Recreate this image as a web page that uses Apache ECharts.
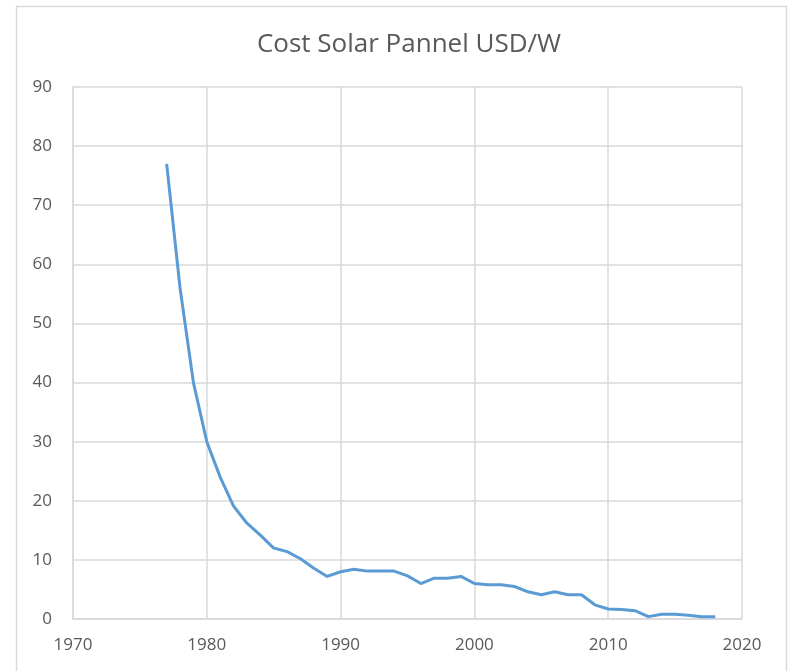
<!DOCTYPE html>
<html>
<head>
<meta charset="utf-8">
<script src="https://cdn.jsdelivr.net/npm/echarts@6/dist/echarts.min.js"></script>
<style>
  html, body { margin: 0; padding: 0; background: #fff; }
  #chart { width: 788px; height: 671px; }
</style>
</head>
<body>
<div id="chart"></div>
<script>
// cost of solar panels, USD per watt
const years = [1977, 1978, 1979, 1980, 1981, 1982, 1983, 1984, 1985, 1986, 1987, 1988, 1989,
  1990, 1991, 1992, 1993, 1994, 1995, 1996, 1997, 1998, 1999, 2000, 2001, 2002, 2003, 2004,
  2005, 2006, 2007, 2008, 2009, 2010, 2011, 2012, 2013, 2014, 2015, 2016, 2017, 2018]
const costs = [77, 56, 40, 30, 24, 19.1, 16.2, 14.2, 12.0, 11.4, 10.2, 8.6, 7.2,
  8.0, 8.4, 8.1, 8.1, 8.1, 7.3, 6.0, 6.9, 6.9, 7.2, 6.0, 5.8, 5.8, 5.5, 4.6,
  4.1, 4.6, 4.1, 4.1, 2.4, 1.7, 1.6, 1.4, 0.4, 0.8, 0.8, 0.65, 0.4, 0.4]
const titleText = 'Cost Solar Pannel USD/W'

const chart = echarts.init(document.getElementById('chart'))
const grey = '#d9d9d9'
const labelFont = { color: '#595959', fontSize: 17, fontFamily: 'Open Sans' }

chart.setOption({
  animation: false,
  title: {
    text: titleText,
    left: 404,
    textAlign: 'center',
    top: 27,
    textStyle: { color: '#595959', fontSize: 26, fontWeight: 'normal', fontFamily: 'Open Sans' }
  },
  graphic: [{
    type: 'rect',
    shape: { x: 16.5, y: 6.5, width: 770, height: 700 },
    style: { fill: 'none', stroke: grey, lineWidth: 1.5 },
    silent: true
  }],
  grid: { left: 73, top: 87, right: 46, bottom: 52 },
  xAxis: {
    type: 'value',
    min: 1970,
    max: 2020,
    interval: 10,
    axisLine: { show: true, lineStyle: { color: grey, width: 1.5 } },
    axisTick: { show: false },
    axisLabel: Object.assign({ margin: 18, formatter: v => String(v) }, labelFont),
    splitLine: { show: true, lineStyle: { color: grey, width: 1.5 } }
  },
  yAxis: {
    type: 'value',
    min: 0,
    max: 90,
    interval: 10,
    axisLine: { show: true, lineStyle: { color: grey, width: 1.5 } },
    axisTick: { show: false },
    axisLabel: Object.assign({ margin: 21 }, labelFont),
    splitLine: { show: true, lineStyle: { color: grey, width: 1.5 } }
  },
  series: [{
    type: 'line',
    data: years.map((y, i) => [y, costs[i]]),
    showSymbol: false,
    lineStyle: { color: '#5b9bd5', width: 3 }
  }]
})
</script>
</body>
</html>
